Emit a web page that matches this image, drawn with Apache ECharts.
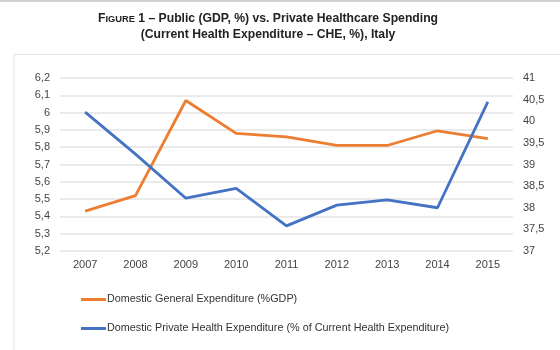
<!DOCTYPE html>
<html>
<head>
<meta charset="utf-8">
<title>Public vs Private Healthcare Spending, Italy</title>
<script src="https://cdn.jsdelivr.net/npm/echarts@6/dist/echarts.min.js"></script>
<style>
  html, body { margin: 0; padding: 0; background: #fff; }
  #main { width: 560px; height: 350px; }
</style>
</head>
<body>
<div id="main"></div>
<script>
// categories
var years = ['2007', '2008', '2009', '2010', '2011', '2012', '2013', '2014', '2015'];
// Domestic General Expenditure (%GDP) - left axis
var publicGdp = [5.43, 5.52, 6.07, 5.88, 5.86, 5.81, 5.81, 5.895, 5.85];
// Domestic Private Health Expenditure (% of CHE) - right axis
var privateChe = [40.21, 39.24, 38.22, 38.45, 37.58, 38.06, 38.18, 38.0, 40.45];

var nameOne = 'Domestic General Expenditure (%GDP)';
var nameTwo = 'Domestic Private Health Expenditure (% of Current Health Expenditure)';

function comma(v) {
    return String(Math.round(v * 10) / 10).replace('.', ',');
}

var font = 'Liberation Sans, Arial, sans-serif';

var option = {
    animation: false,
    backgroundColor: '#fff',
    textStyle: { fontFamily: font },
    title: {
        text: '{b|F}{s|IGURE}{b| 1 – Public (GDP, %) vs. Private Healthcare Spending}\n{b|(Current Health Expenditure – CHE, %), Italy}',
        left: 263,
        textAlign: 'center',
        top: 6,
        textStyle: {
            rich: {
                b: { fontSize: 12.2, fontWeight: 'bold', color: '#222', fontFamily: font, lineHeight: 16 },
                s: { fontSize: 9.3, fontWeight: 'bold', color: '#222', fontFamily: font, lineHeight: 16 }
            }
        }
    },
    graphic: [
        { type: 'rect', left: 0, top: 0, shape: { width: 560, height: 2 }, style: { fill: '#cfcfcf' } },
        { type: 'rect', left: 11.5, top: 52, shape: { width: 560, height: 310 }, style: { fill: 'none', stroke: '#e2e2e2', lineWidth: 1 }, z: -1 }
    ],
    legend: {
        orient: 'vertical',
        left: 76,
        top: 289,
        itemGap: 18,
        itemWidth: 25,
        itemHeight: 3,
        icon: 'rect',
        textStyle: { fontSize: 10.8, color: '#333', padding: [0, 0, 0, -4] },
        data: [nameOne, nameTwo]
    },
    grid: { left: 60, right: 47, top: 78, bottom: 99 },
    xAxis: {
        type: 'category',
        data: years,
        boundaryGap: true,
        axisLine: { show: false },
        axisTick: { show: false },
        axisLabel: { color: '#444', fontSize: 11, margin: 8 }
    },
    yAxis: [
        {
            type: 'value',
            min: 5.2,
            max: 6.2,
            interval: 0.1,
            axisLine: { show: false },
            axisTick: { show: false },
            splitLine: { lineStyle: { color: '#e3e3e3', width: 1.5 } },
            axisLabel: { color: '#444', fontSize: 11, margin: 10, formatter: comma }
        },
        {
            type: 'value',
            min: 37,
            max: 41,
            interval: 0.5,
            axisLine: { show: false },
            axisTick: { show: false },
            splitLine: { show: false },
            axisLabel: { color: '#444', fontSize: 11, margin: 10, formatter: comma }
        }
    ],
    series: [
        {
            name: nameOne,
            type: 'line',
            yAxisIndex: 0,
            data: publicGdp,
            symbol: 'none',
            color: '#ED7D31',
            lineStyle: { width: 2.8, color: '#ED7D31' }
        },
        {
            name: nameTwo,
            type: 'line',
            yAxisIndex: 1,
            data: privateChe,
            symbol: 'none',
            color: '#4472C4',
            lineStyle: { width: 2.8, color: '#4472C4' }
        }
    ]
};

var myChart = echarts.init(document.getElementById('main'));
myChart.setOption(option);
</script>
</body>
</html>
